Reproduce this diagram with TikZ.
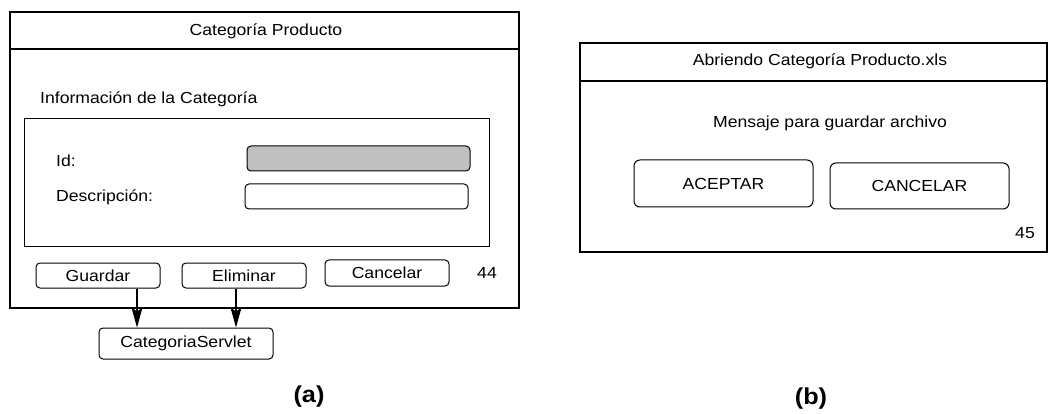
\documentclass[tikz,border=0pt]{standalone}
\usepackage{fontspec}
\setmainfont{Liberation Sans}[FakeStretch=1.1]
\usepackage{xcolor}
\usepackage{tikz}
\usetikzlibrary{shapes, arrows.meta, positioning}
\definecolor{fieldgray}{HTML}{C0C0C0}
\newcommand{\txtsize}{\fontsize{16}{19}\selectfont}
\begin{document}
\begin{tikzpicture}[
  x=1pt, y=-1pt,
  window/.style={rectangle, draw, line width=1.3pt, inner sep=0pt},
  panel/.style={rectangle, draw, line width=1pt, inner sep=0pt},
  field/.style={rectangle, draw, rounded corners=4pt, line width=1pt, minimum width=223pt, minimum height=25pt, fill=#1},
  field/.default=white,
  button/.style={rectangle, draw, rounded corners=4pt, line width=1pt, minimum height=25pt, font=\txtsize, inner sep=0pt},
  label/.style={font=\txtsize, inner sep=0pt},
  caption/.style={font=\fontsize{23}{26}\selectfont\bfseries, inner sep=0pt},
  arrow/.style={-{Stealth[length=20pt, width=11pt, inset=4pt]}, line width=1.1pt}
]
  \useasboundingbox (0,0) rectangle (1055,414);

  \node[window, minimum width=509pt, minimum height=296pt] (wina) at (264.5,160) {};
  \draw[line width=1.3pt] (10,49) -- (519,49);
  \node[label] (titlea) at (266,31) {Categoría Producto};
  \node[label, anchor=west] (info) at (40,99) {Información de la Categoría};
  \node[panel, minimum width=465pt, minimum height=128pt] (infobox) at (256.5,183) {};
  \node[label, anchor=west] (lid) at (56,161) {Id:};
  \node[field=fieldgray] (fid) at (358.5,158.5) {};
  \node[label, anchor=west] (ldesc) at (56,197) {Descripción:};
  \node[field] (fdesc) at (356.5,196.5) {};
  \node[button, minimum width=124pt] (guardar) at (98,275.5) {Guardar};
  \node[button, minimum width=124pt] (eliminar) at (244,275.5) {Eliminar};
  \node[button, minimum width=124pt, minimum height=26pt] (cancelar) at (387,273) {Cancelar};
  \node[label] (numa) at (487,273) {44};
  \node[button, minimum width=174pt, minimum height=31pt] (servlet) at (186,343.5) {CategoriaServlet};

  \draw[arrow] ([xshift=39pt]guardar.south) -- ([xshift=39pt]guardar.south |- servlet.north);
  \draw[arrow] ([xshift=-8pt]eliminar.south) -- ([xshift=-8pt]eliminar.south |- servlet.north);

  \node[window, minimum width=467pt, minimum height=209pt] (winb) at (813.5,147.5) {};
  \draw[line width=1.3pt] (580,81) -- (1047,81);
  \node[label] (titleb) at (820,61) {Abriendo Categoría Producto.xls};
  \node[label] (msg) at (830,123) {Mensaje para guardar archivo};
  \node[button, minimum width=179pt, minimum height=47pt, rounded corners=6pt] (aceptar) at (723.5,183.5) {ACEPTAR};
  \node[button, minimum width=179pt, minimum height=46pt, rounded corners=6pt] (cancelarb) at (919.5,186) {CANCELAR};
  \node[label] (numb) at (1025,233) {45};

  \node[caption] (capa) at (309,397) {(a)};
  \node[caption] (capb) at (811,399) {(b)};
\end{tikzpicture}
\end{document}
